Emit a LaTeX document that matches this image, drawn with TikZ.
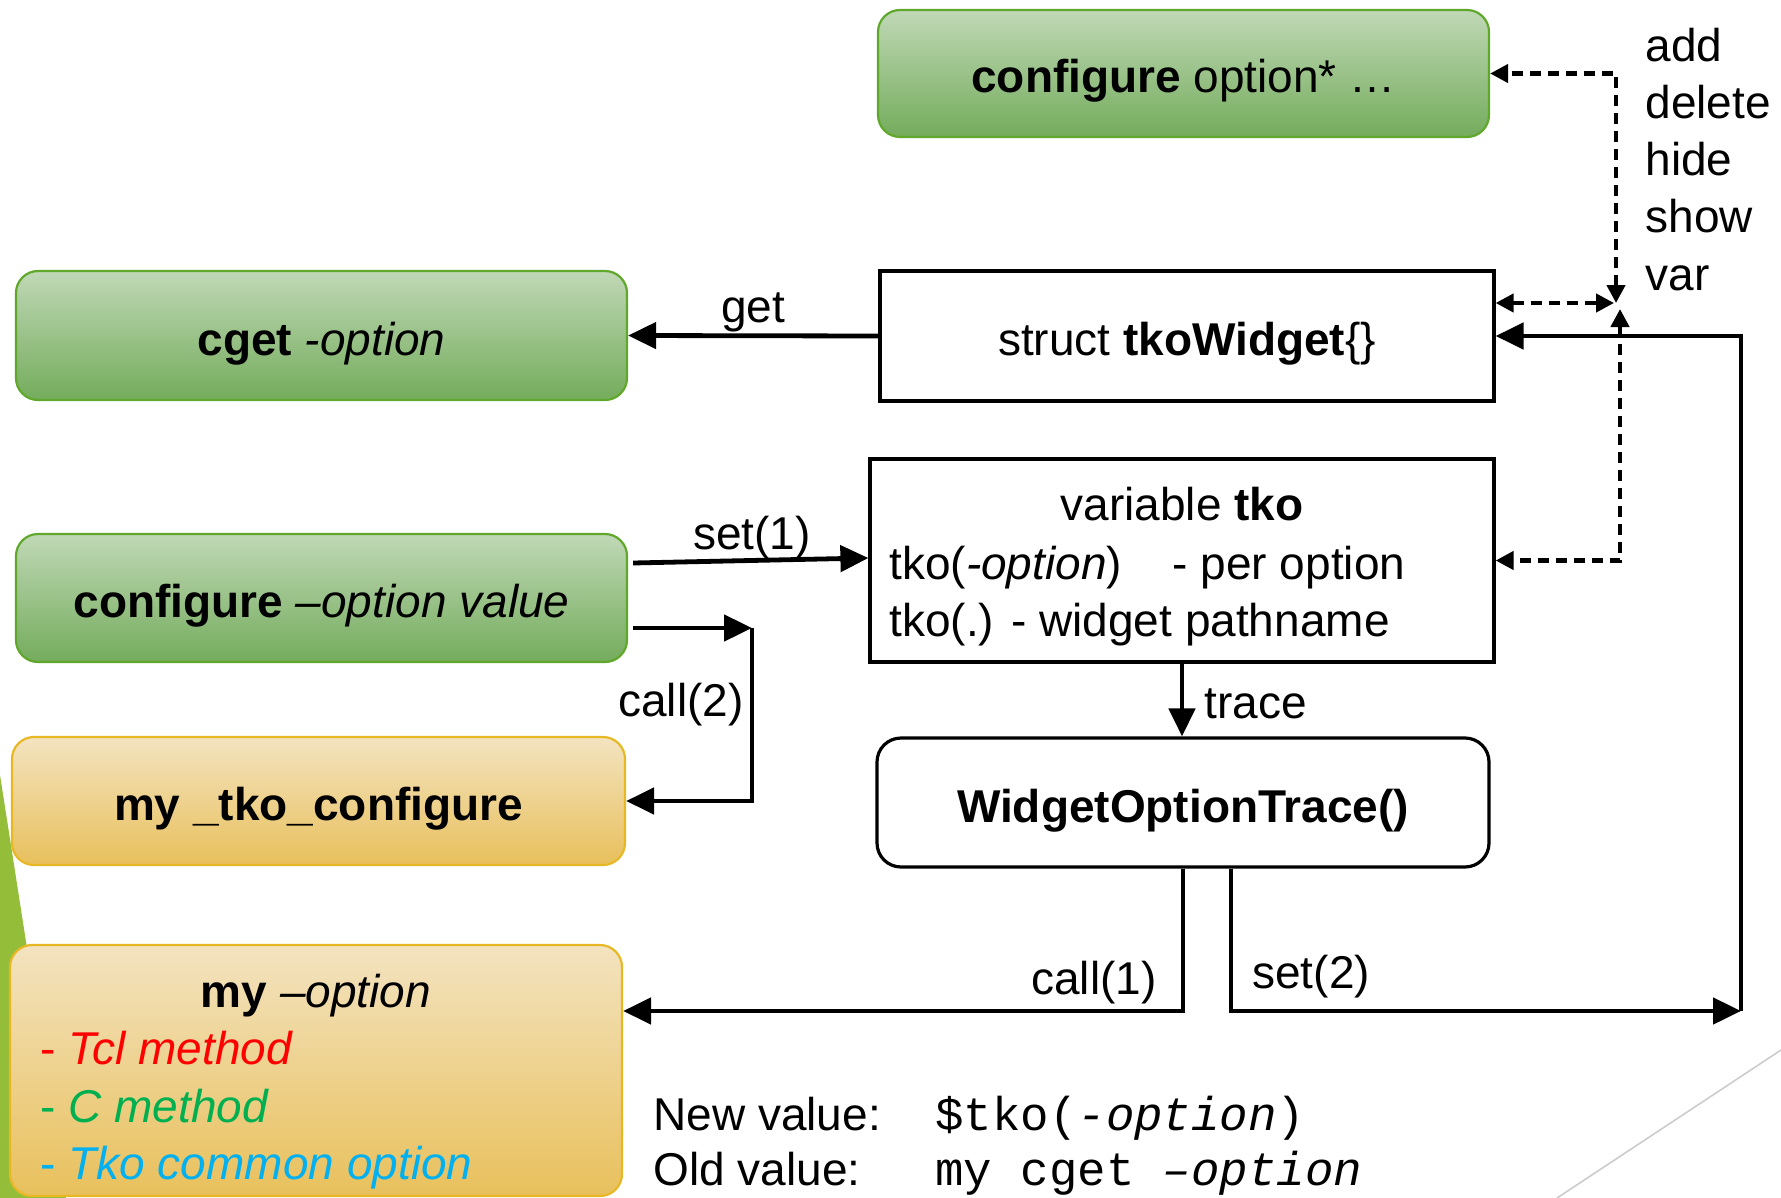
\documentclass[tikz,border=0pt]{standalone}
\usepackage{fontspec}
\setmainfont{Liberation Sans}
\setmonofont{Liberation Mono}
\usetikzlibrary{arrows.meta,calc}

\definecolor{grtop}{RGB}{192,216,182}
\definecolor{grbot}{RGB}{116,172,92}
\definecolor{grline}{RGB}{96,168,44}
\definecolor{yetop}{RGB}{243,227,192}
\definecolor{yebot}{RGB}{232,192,92}
\definecolor{yeline}{RGB}{232,184,36}
\definecolor{wedgegreen}{RGB}{148,190,58}
\definecolor{tclred}{RGB}{255,0,0}
\definecolor{cgreen}{RGB}{0,176,80}
\definecolor{tkocyan}{RGB}{0,176,240}

\newcommand\txtsize{\fontsize{23}{28.5}\selectfont}
\newcommand\monosize{\fontsize{23.7}{28.5}\selectfont}

\tikzset{
  box/.style={inner sep=0pt, font=\txtsize, align=center,
              text height=19.5pt, text depth=0pt},
  greenbox/.style={box, draw=grline, line width=1.1pt, rounded corners=11pt,
                   top color=grtop, bottom color=grbot},
  yellowbox/.style={box, draw=yeline, line width=1.1pt, rounded corners=11pt,
                    top color=yetop, bottom color=yebot},
  plainbox/.style={box, draw=black, line width=1.6pt},
  roundbox/.style={plainbox, rounded corners=12pt},
  size/.style 2 args={minimum width=#1, minimum height=#2},
  arr/.style={line width=2.4pt, -{Triangle[length=14pt,width=13pt]}},
  darr/.style={line width=2.1pt, dash pattern=on 5.5pt off 3.5pt,
               {Triangle[length=9pt,width=9pt]}-{Triangle[length=9pt,width=9pt]}},
  lbl/.style={font=\txtsize, inner sep=0pt},
}

\begin{document}
\begin{tikzpicture}[x=0.5pt,y=-0.5pt]
  \useasboundingbox (0,0) rectangle (1781,1198);

  % slide decoration
  \fill[wedgegreen] (0,775) -- (66,1198) -- (0,1198) -- cycle;
  \draw[black!20, line width=0.8pt] (1781,1050) -- (1557,1198);

  % boxes
  \node[greenbox, size={305.5pt}{63.5pt}] (cfgall) at (1183.5,73.5) {\textbf{configure} option* …};
  \node[plainbox, size={307pt}{65pt}] (struct) at (1187,336) {struct \textbf{tkoWidget}\{\}};
  \node[greenbox, size={305.5pt}{64.5pt}] (cget) at (321.5,335.5) {\textbf{cget} \textit{-option}};
  \node[greenbox, size={305.5pt}{64pt}] (cfg) at (321.5,598) {\textbf{configure} \textit{–option value}};
  \node[plainbox, size={312pt}{101.5pt}] (tkovar) at (1182,560.5) {};
  \node[roundbox, size={306pt}{64.5pt}] (wot) at (1183,802.5) {\textbf{WidgetOptionTrace()}};
  \node[yellowbox, size={306.5pt}{64pt}] (mytko) at (318.5,801) {\textbf{my \_tko\_configure}};
  \node[yellowbox, size={306pt}{125.5pt}] (myopt) at (316,1070.5) {};

  % texts inside the variable box
  \node[lbl, anchor=base] (tkotitle) at (1182,520) {variable \textbf{tko}};
  \node[lbl, anchor=base west] (tkoopt) at (889,579) {tko(\textit{-option})\hspace{1.1em}- per option};
  \node[lbl, anchor=base west] (tkopath) at (889,636) {tko(.) - widget pathname};

  % texts inside the option box
  \node[lbl, anchor=base] (opttitle) at (316,1007) {\textbf{my} \textit{–option}};
  \node[lbl, anchor=base west, text=tclred] (optA) at (40,1064) {- \textit{Tcl method}};
  \node[lbl, anchor=base west, text=cgreen] (optB) at (40,1122) {- \textit{C method}};
  \node[lbl, anchor=base west, text=tkocyan] (optC) at (40,1179) {- \textit{Tko common option}};

  % subcommand list
  \node[lbl, anchor=base west] (sub1) at (1645,62) {add};
  \node[lbl, anchor=base west] (sub2) at (1645,119) {delete};
  \node[lbl, anchor=base west] (sub3) at (1645,176) {hide};
  \node[lbl, anchor=base west] (sub4) at (1645,233) {show};
  \node[lbl, anchor=base west] (sub5) at (1645,290) {var};

  % value notes
  \node[lbl, anchor=base west] (newv) at (653,1130) {New value:};
  \node[lbl, anchor=base west] (oldv) at (653,1185) {Old value:};
  \node[lbl, anchor=base west, font=\monosize\ttfamily] (newc) at (935,1130) {\$tko(\textit{-option})};
  \node[lbl, anchor=base west, font=\monosize\ttfamily] (oldc) at (935,1185) {my cget \textit{–option}};

  % connectors
  \draw[arr] (struct.west) -- (cget.east);
  \node[lbl, anchor=base] (getl) at (753,322) {get};

  \draw[arr] ([xshift=2.5pt,yshift=17.5pt]cfg.east) -- ([yshift=1.25pt]tkovar.west);
  \node[lbl, anchor=base] (set1l) at (752,549) {set(1)};

  \coordinate (c2) at (752,628);
  \draw[arr] ([xshift=2.5pt,yshift=-15pt]cfg.east) -- (c2);
  \draw[arr] (c2) |- (mytko.east);
  \node[lbl, anchor=base east] (call2l) at (744,716) {call(2)};

  \draw[arr] (tkovar.south) -- (tkovar.south |- wot.north);
  \node[lbl, anchor=base west] (tracel) at (1204,718) {trace};

  \coordinate (lowrow) at (0,1011);
  \draw[arr] (wot.south) -- (wot.south |- lowrow) -- (myopt.east |- lowrow);
  \node[lbl, anchor=base east] (call1l) at (1157,994) {call(1)};

  \coordinate (rc) at (1741,1011);
  \draw[arr] ([xshift=24pt]wot.south) -- ([xshift=24pt]wot.south |- rc) -- (rc);
  \draw[arr] (rc) |- (struct.east);
  \node[lbl, anchor=base west] (set2l) at (1252,988) {set(2)};

  % dashed links to the configure subcommands
  \coordinate (jn) at (1616,303);
  \draw[darr] (jn) |- (cfgall.east);
  \draw[darr] (struct.east |- jn) -- ([xshift=-1pt]jn);
  \draw[darr] ([xshift=2pt,yshift=-3pt]jn) |- (tkovar.east);
\end{tikzpicture}
\end{document}
